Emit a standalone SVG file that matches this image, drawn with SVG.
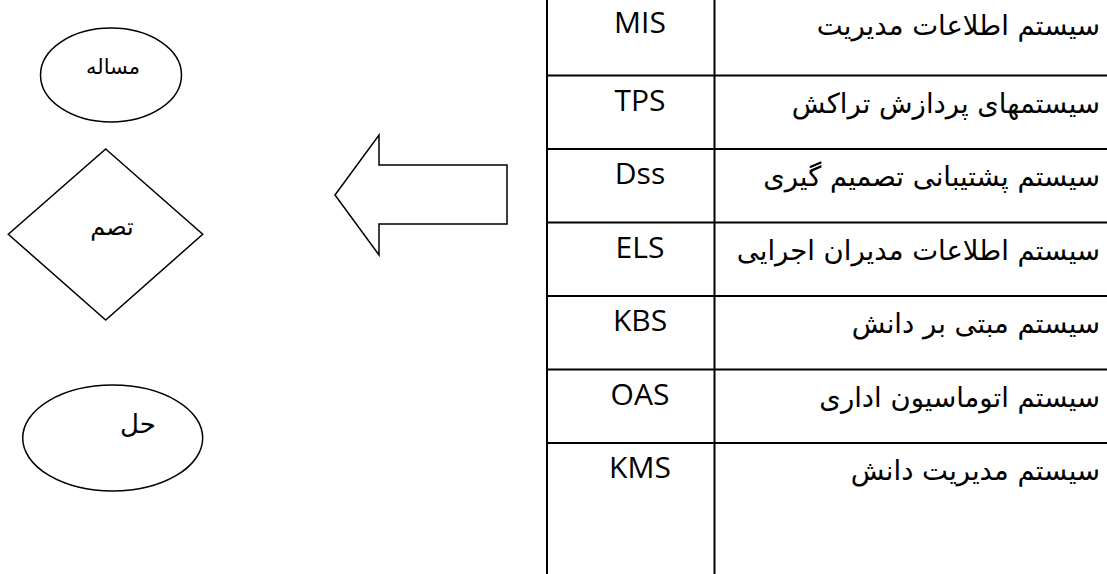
<svg xmlns="http://www.w3.org/2000/svg" width="1107" height="574" viewBox="0 0 1107 574">
<style>
.shape{fill:#fff;stroke:#000;stroke-width:1.5}
.grid{stroke:#000;stroke-width:2;fill:none}
.abbr{font-family:"Open Sans","Liberation Sans",sans-serif;font-size:30px;fill:#000;text-anchor:middle}
.fa{font-family:"DejaVu Sans","Noto Sans",sans-serif;font-size:27.5px;fill:#000;text-anchor:end}
.lbl{font-family:"DejaVu Sans","Noto Sans",sans-serif;font-size:21px;fill:#000;text-anchor:middle}
</style>
<rect width="1107" height="574" fill="#fff"/>
<g id="node-problem">
<ellipse class="shape" cx="111" cy="75" rx="70.5" ry="47"/>
<text class="lbl" x="113" y="74">مساله</text>
</g>
<g id="node-decision">
<polygon class="shape" points="105.7,149 202.7,234.3 105.7,320 8.3,234.3"/>
<text class="lbl" x="112" y="235" style="font-size:24px">تصم</text>
</g>
<g id="node-solution">
<ellipse class="shape" cx="112.7" cy="438" rx="90" ry="53"/>
<text class="lbl" x="138" y="433" style="font-size:26px">حل</text>
</g>
<g id="node-arrow">
<polygon class="shape" points="335,195 379,135 379,165 507,165 507,224 379,224 379,255"/>
</g>
<g id="node-table">
<line class="grid" x1="547" y1="0" x2="547" y2="574"/>
<line class="grid" x1="714.5" y1="0" x2="714.5" y2="574"/>
<line class="grid" x1="547" y1="75.5" x2="1107" y2="75.5"/>
<line class="grid" x1="547" y1="149" x2="1107" y2="149"/>
<line class="grid" x1="547" y1="222.5" x2="1107" y2="222.5"/>
<line class="grid" x1="547" y1="296" x2="1107" y2="296"/>
<line class="grid" x1="547" y1="369.5" x2="1107" y2="369.5"/>
<line class="grid" x1="547" y1="443" x2="1107" y2="443"/>
<text class="abbr" x="640" y="33">MIS</text>
<text class="abbr" x="640" y="111">TPS</text>
<text class="abbr" x="640" y="184">Dss</text>
<text class="abbr" x="640" y="258">ELS</text>
<text class="abbr" x="640" y="331">KBS</text>
<text class="abbr" x="640" y="405">OAS</text>
<text class="abbr" x="640" y="478">KMS</text>
<text class="fa" x="1100" y="35">سیستم اطلاعات مدیریت</text>
<text class="fa" x="1100" y="113">سیستمهای پردازش تراکش</text>
<text class="fa" x="1100" y="186">سیستم پشتیبانی تصمیم گیری</text>
<text class="fa" x="1100" y="260">سیستم اطلاعات مدیران اجرایی</text>
<text class="fa" x="1100" y="333">سیستم مبتی بر دانش</text>
<text class="fa" x="1100" y="407">سیستم اتوماسیون اداری</text>
<text class="fa" x="1100" y="480">سیستم مدیریت دانش</text>
</g>
</svg>
